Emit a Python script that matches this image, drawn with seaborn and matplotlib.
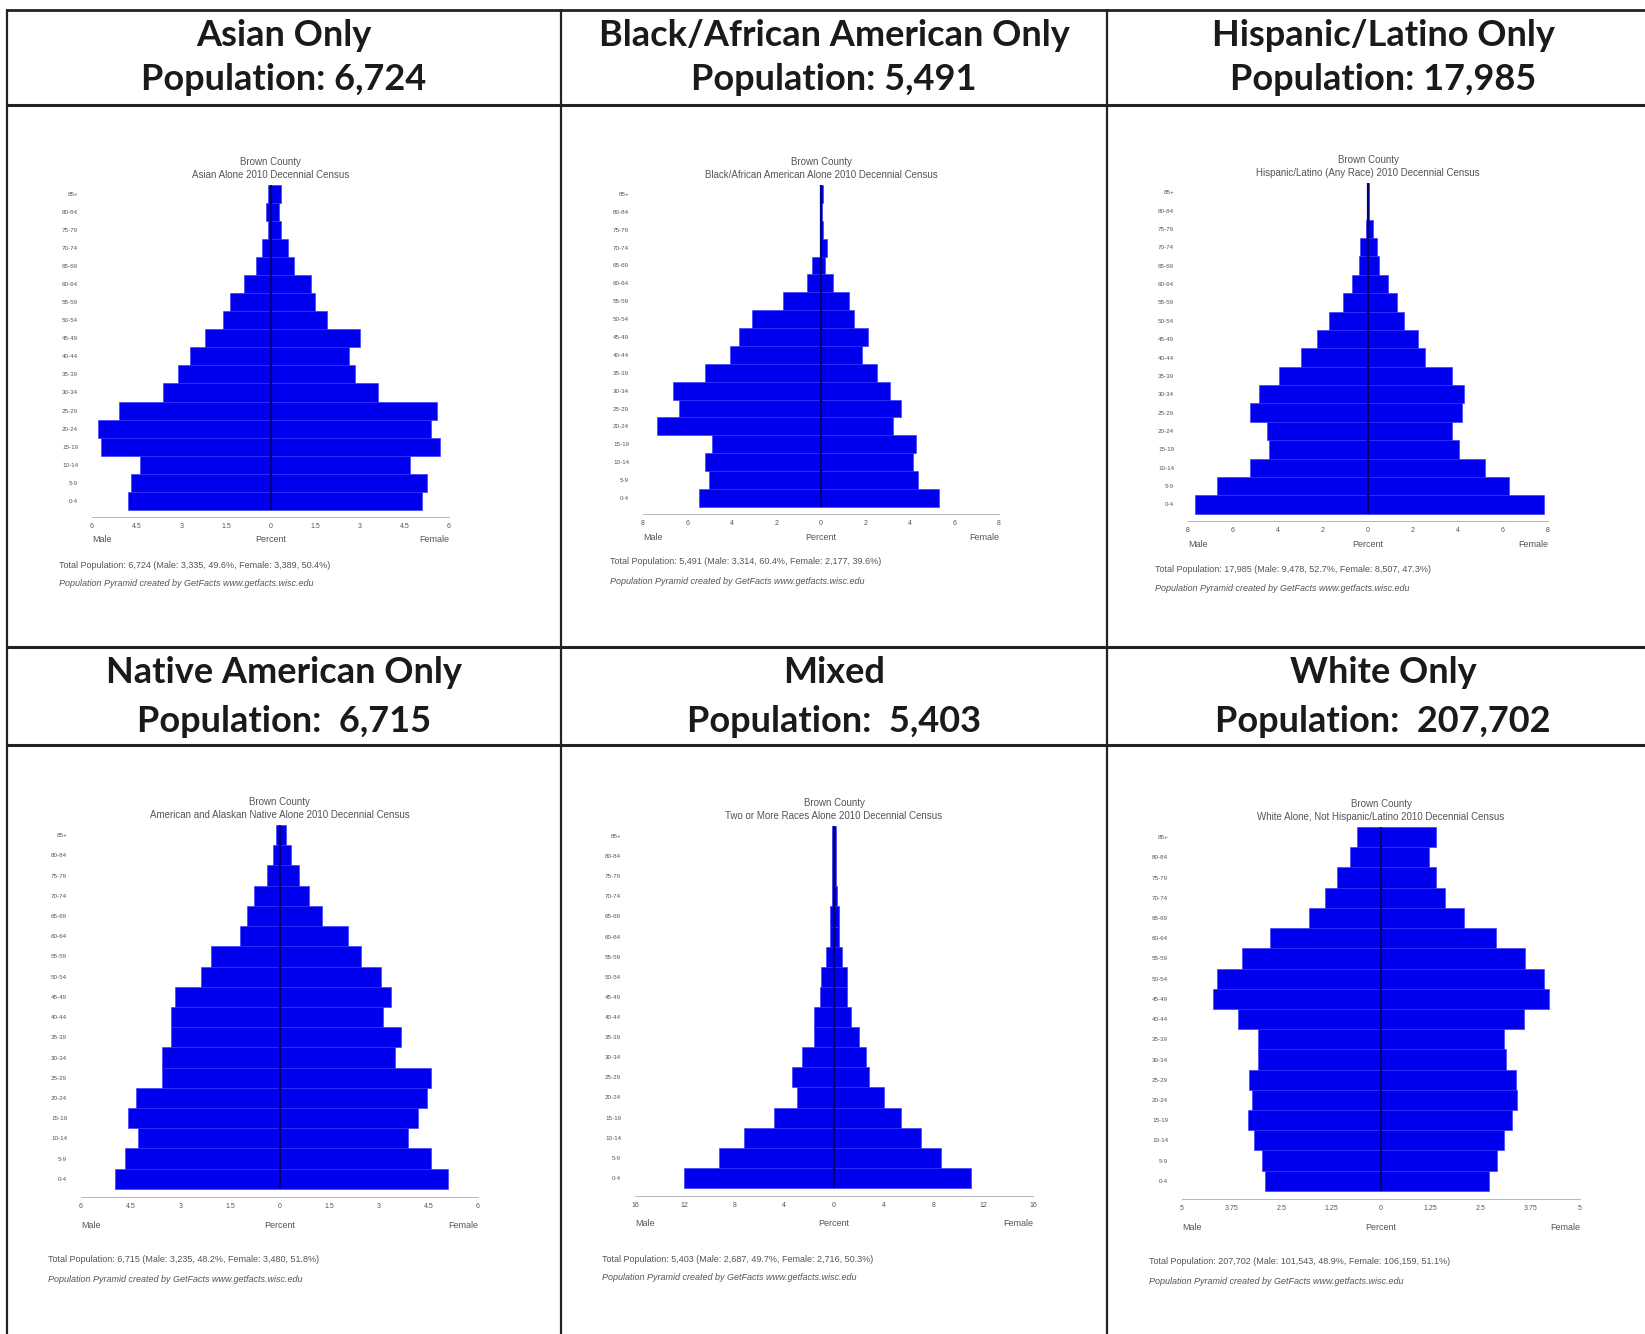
#!/usr/bin/env python3

# ===================== LIBRARIES =====================

import matplotlib.pyplot as plt
from matplotlib.lines import Line2D
import seaborn as sns
import pandas as pd
import numpy as np

# ===================== DATA =====================

ages = ["85+", "80-84", "75-79", "70-74", "65-69", "60-64", "55-59", "50-54",
        "45-49", "40-44", "35-39", "30-34", "25-29", "20-24", "15-19",
        "10-14", "5-9", "0-4"]

# percent of the group's total population, oldest group first
asian_male = [0.1, 0.15, 0.1, 0.3, 0.5, 0.9, 1.35, 1.6, 2.2, 2.7, 3.1, 3.6,
              5.1, 5.8, 5.7, 4.4, 4.7, 4.8]
asian_female = [0.35, 0.3, 0.35, 0.6, 0.8, 1.35, 1.5, 1.9, 3.0, 2.65, 2.85,
                3.6, 5.6, 5.4, 5.7, 4.7, 5.25, 5.1]

black_male = [0.05, 0.05, 0.05, 0.05, 0.4, 0.65, 1.7, 3.1, 3.7, 4.1, 5.2,
              6.65, 6.4, 7.35, 4.9, 5.2, 5.05, 5.5]
black_female = [0.1, 0.05, 0.1, 0.25, 0.2, 0.55, 1.25, 1.5, 2.1, 1.85, 2.5,
                3.1, 3.6, 3.25, 4.25, 4.15, 4.35, 5.3]

hispanic_male = [0.05, 0.05, 0.1, 0.35, 0.4, 0.7, 1.1, 1.75, 2.25, 3.0,
                 3.95, 4.85, 5.26, 4.49, 4.41, 5.23, 6.71, 7.67]
hispanic_female = [0.05, 0.05, 0.2, 0.4, 0.5, 0.9, 1.3, 1.6, 2.2, 2.55,
                   3.75, 4.25, 4.18, 3.73, 4.03, 5.21, 6.25, 7.81]

native_male = [0.12, 0.2, 0.37, 0.77, 0.98, 1.18, 2.06, 2.38, 3.17, 3.29,
               3.29, 3.54, 3.54, 4.33, 4.58, 4.28, 4.68, 4.98]
native_female = [0.2, 0.35, 0.58, 0.89, 1.29, 2.06, 2.46, 3.07, 3.37, 3.12,
                 3.67, 3.5, 4.58, 4.45, 4.18, 3.87, 4.58, 5.08]

mixed_male = [0.13, 0.13, 0.13, 0.13, 0.32, 0.32, 0.67, 1.07, 1.13, 1.6,
              1.6, 2.6, 3.36, 2.95, 4.83, 7.25, 9.26, 12.03]
mixed_female = [0.2, 0.2, 0.2, 0.27, 0.4, 0.4, 0.67, 1.07, 1.07, 1.34,
                2.0, 2.55, 2.82, 4.03, 5.37, 6.98, 8.59, 11.0]

white_male = [0.6, 0.79, 1.11, 1.4, 1.8, 2.8, 3.5, 4.11, 4.21, 3.6, 3.08,
              3.08, 3.31, 3.25, 3.33, 3.2, 3.0, 2.91]
white_female = [1.39, 1.2, 1.37, 1.62, 2.08, 2.9, 3.62, 4.09, 4.22, 3.59,
                3.09, 3.13, 3.38, 3.42, 3.3, 3.09, 2.92, 2.71]

header_titles = ["Asian Only", "Black/African American Only",
                 "Hispanic/Latino Only", "Native American Only", "Mixed",
                 "White Only"]
header_pops = ["Population: 6,724", "Population: 5,491", "Population: 17,985",
               "Population:  6,715", "Population:  5,403",
               "Population:  207,702"]

subtitles = ["Asian Alone 2010 Decennial Census",
             "Black/African American Alone 2010 Decennial Census",
             "Hispanic/Latino (Any Race) 2010 Decennial Census",
             "American and Alaskan Native Alone 2010 Decennial Census",
             "Two or More Races Alone 2010 Decennial Census",
             "White Alone, Not Hispanic/Latino 2010 Decennial Census"]

axis_max = [6, 8, 8, 6, 16, 5]
tick_labels = [
    ["6", "4.5", "3", "1.5", "0", "1.5", "3", "4.5", "6"],
    ["8", "6", "4", "2", "0", "2", "4", "6", "8"],
    ["8", "6", "4", "2", "0", "2", "4", "6", "8"],
    ["6", "4.5", "3", "1.5", "0", "1.5", "3", "4.5", "6"],
    ["16", "12", "8", "4", "0", "4", "8", "12", "16"],
    ["5", "3.75", "2.5", "1.25", "0", "1.25", "2.5", "3.75", "5"],
]

totals = [
    "Total Population: 6,724 (Male: 3,335, 49.6%, Female: 3,389, 50.4%)",
    "Total Population: 5,491 (Male: 3,314, 60.4%, Female: 2,177, 39.6%)",
    "Total Population: 17,985 (Male: 9,478, 52.7%, Female: 8,507, 47.3%)",
    "Total Population: 6,715 (Male: 3,235, 48.2%, Female: 3,480, 51.8%)",
    "Total Population: 5,403 (Male: 2,687, 49.7%, Female: 2,716, 50.3%)",
    "Total Population: 207,702 (Male: 101,543, 48.9%, Female: 106,159, 51.1%)",
]
credit = "Population Pyramid created by GetFacts www.getfacts.wisc.edu"

# ===================== LAYOUT (pixels) =====================

W, H = 1645, 1334
BLUE = "#0000ee"
TXT = "#555555"

# left, right, top, bottom of each pyramid axes
panel_px = [
    (92, 449, 185, 517),
    (643, 999, 185, 514),
    (1188, 1548, 183, 521),
    (81, 478, 825, 1197),
    (635, 1033, 826, 1196),
    (1182, 1580, 827, 1199),
]
header_x = [284, 834, 1383, 284, 834, 1383]
header_y = [(36, 80), (36, 80), (36, 80), (673, 721), (673, 721), (673, 721)]


def px_rect(left, right, top, bottom):
    return [left / W, 1 - bottom / H, (right - left) / W, (bottom - top) / H]


def pyramid(ax, male, female, m, ticks, subtitle, total, row):
    df = pd.DataFrame({
        "Age": ages * 2,
        "Sex": ["Male"] * len(ages) + ["Female"] * len(ages),
        "Percent": [-v for v in male] + list(female),
    })

    sns.barplot(
        data=df, x="Percent", y="Age", hue="Sex", order=ages,
        hue_order=["Male", "Female"],
        palette={"Male": BLUE, "Female": BLUE}, saturation=1,
        dodge=False, width=1.0, orient="h", errorbar=None,
        edgecolor="#3030ff", linewidth=0.4, legend=False, ax=ax,
    )
    ax.vlines(0, -0.5, len(ages) - 0.5, color="#00007a", lw=1.6, zorder=5)

    ax.set_xlim(-m, m)
    ax.set_ylim(len(ages) - 0.5 + 0.4, -0.5)
    ax.set_xticks(np.linspace(-m, m, 9))
    ax.set_xticklabels(ticks)
    ax.tick_params(axis="x", labelsize=5, length=3, width=0.5,
                   color="#888888", pad=1, labelcolor=TXT)
    ax.tick_params(axis="y", labelsize=4.5, length=0, pad=10, labelcolor=TXT)
    ax.set_xlabel("")
    ax.set_ylabel("")
    for s in ["top", "right", "left"]:
        ax.spines[s].set_visible(False)
    ax.spines["bottom"].set_color("#aaaaaa")
    ax.spines["bottom"].set_linewidth(0.6)

    ax.set_title(f"Brown County\n{subtitle}", fontsize=7, color=TXT,
                 pad=5, linespacing=1.4)

    lab_dy = -23 if row == 0 else -28
    for x, ha, s in [(0, "left", "Male"), (0.5, "center", "Percent"),
                     (1, "right", "Female")]:
        ax.annotate(s, xy=(x, 0), xycoords="axes fraction",
                    xytext=(0, lab_dy * 0.72), textcoords="offset points",
                    ha=ha, va="center", fontsize=6.5, color=TXT)

    tot_dy = -48 if row == 0 else -63
    ax.annotate(total, xy=(0, 0), xycoords="axes fraction",
                xytext=(-33 * 0.72, tot_dy * 0.72), textcoords="offset points",
                ha="left", va="center", fontsize=6.5, color=TXT)
    ax.annotate(credit, xy=(0, 0), xycoords="axes fraction",
                xytext=(-33 * 0.72, (tot_dy - 19) * 0.72),
                textcoords="offset points", ha="left", va="center",
                fontsize=6.5, color=TXT, style="italic")

    return ax


# ===================== MAIN =====================

def main() -> None:
    sns.set_style("white")
    plt.rcParams["font.family"] = ["Liberation Sans", "DejaVu Sans"]

    fig = plt.figure(figsize=(W / 100, H / 100), dpi=100)
    fig.patch.set_facecolor("white")

    # table grid
    line_kw = dict(transform=fig.transFigure, color="#222222")
    for y, lw in [(10, 2.0), (105, 2.2), (647, 2.2), (745, 2.2)]:
        fig.add_artist(Line2D([7 / W, 1], [1 - y / H, 1 - y / H], lw=lw, **line_kw))
    for x in [7, 561, 1107]:
        fig.add_artist(Line2D([x / W, x / W], [1 - 10 / H, 0], lw=1.6, **line_kw))

    males = [asian_male, black_male, hispanic_male, native_male, mixed_male, white_male]
    females = [asian_female, black_female, hispanic_female, native_female,
               mixed_female, white_female]

    for i in range(6):
        y1, y2 = header_y[i]
        for y, s in [(y1, header_titles[i]), (y2, header_pops[i])]:
            fig.text(header_x[i] / W, 1 - y / H, s, ha="center", va="center",
                     fontsize=26, fontweight="bold", family="Lato",
                     color="#1a1a1a")

        ax = fig.add_axes(px_rect(*panel_px[i]))
        pyramid(ax, males[i], females[i], axis_max[i], tick_labels[i],
                subtitles[i], totals[i], row=i // 3)

    fig.savefig("out.png", dpi=100, facecolor="white")
    plt.close("all")


if __name__ == "__main__":
    main()
